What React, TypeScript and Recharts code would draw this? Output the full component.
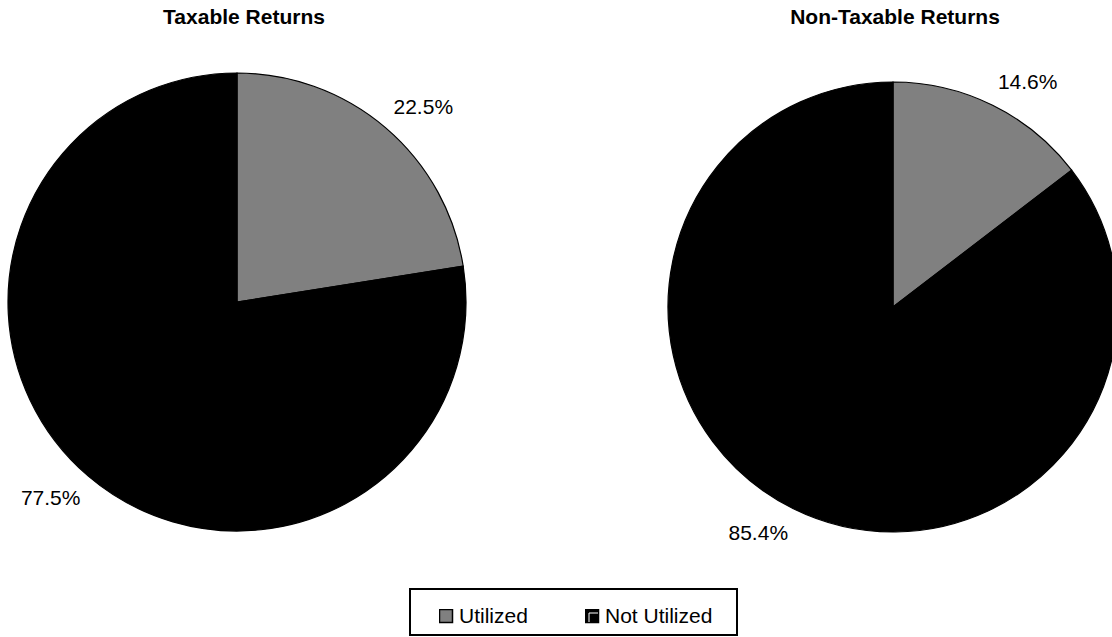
import React from "react";
import { PieChart, Pie, Cell, Legend } from "recharts";

// data
const categories = ["Utilized", "Not Utilized"];
const taxableShares = [22.5, 77.5];
const nonTaxableShares = [14.6, 85.4];
const chartTitles = ["Taxable Returns", "Non-Taxable Returns"];
const sliceColors = ["#808080", "#000000"];

const FONT = "Arial, 'Liberation Sans', Helvetica, sans-serif";
const RAD = Math.PI / 180;
const MARGIN = 5; // recharts default chart margin, pie cx/cy are measured from it

const toRows = (values: number[]) =>
  categories.map((name, i) => ({ name, value: values[i] }));

// label sits just outside the rim, anchored on the side facing away from the pie
function renderLabel(props: any) {
  const { cx, cy, midAngle, outerRadius, value } = props;
  const c = Math.cos(-midAngle * RAD);
  const s = Math.sin(-midAngle * RAD);
  const x = cx + (outerRadius + 12) * c;
  const y = cy + (outerRadius + 18) * s;
  return (
    <text
      x={x}
      y={s < 0 ? y : y + 15}
      textAnchor={c >= 0 ? "start" : "end"}
      fill="#000"
      fontSize={21}
      fontFamily={FONT}
    >
      {value.toFixed(1)}%
    </text>
  );
}

function LegendBox() {
  return (
    <div
      style={{
        boxSizing: "border-box",
        width: 329,
        height: 48,
        border: "2px solid #000",
        background: "#fff",
        position: "relative",
        fontFamily: FONT,
        fontSize: 20,
      }}
    >
      {categories.map((name, i) => (
        <div
          key={name}
          style={{
            position: "absolute",
            left: i === 0 ? 28 : 174,
            top: 14,
            display: "flex",
            alignItems: "center",
            whiteSpace: "nowrap",
          }}
        >
          <svg width={15} height={15} style={{ marginRight: 5 }}>
            <rect x={0.5} y={0.5} width={13} height={13} fill={sliceColors[i]} stroke="#000" strokeWidth={1.5} />
            {i === 1 && <polyline points="4,13 4,4 13,4" fill="none" stroke="#fff" strokeWidth={1} />}
          </svg>
          <span style={{ fontSize: 21 }}>{name}</span>
        </div>
      ))}
    </div>
  );
}

export default function App() {
  const pies = [
    { title: chartTitles[0], rows: toRows(taxableShares), cx: 237, cy: 302, r: 229, tx: 244 },
    { title: chartTitles[1], rows: toRows(nonTaxableShares), cx: 893, cy: 307, r: 225, tx: 895 },
  ];
  return (
    <div style={{ position: "absolute", left: 0, top: 0, width: 1112, height: 637, background: "#fff", overflow: "hidden" }}>
      {pies.map((p) => (
        <div
          key={p.title}
          style={{
            position: "absolute",
            left: p.tx - 200,
            top: 5,
            width: 400,
            textAlign: "center",
            fontFamily: FONT,
            fontWeight: "bold",
            fontSize: 21,
          }}
        >
          {p.title}
        </div>
      ))}
      <PieChart width={1112} height={637} style={{ position: "absolute", left: 0, top: 0 }}>
        {pies.map((p) => (
          <Pie
            key={p.title}
            data={p.rows}
            dataKey="value"
            nameKey="name"
            cx={p.cx - MARGIN}
            cy={p.cy - MARGIN}
            outerRadius={p.r}
            startAngle={90}
            endAngle={-270}
            stroke="#000"
            strokeWidth={1.2}
            label={renderLabel}
            labelLine={false}
            isAnimationActive={false}
          >
            {p.rows.map((row, i) => (
              <Cell key={row.name} fill={sliceColors[i]} />
            ))}
          </Pie>
        ))}
        <Legend
          content={() => <LegendBox />}
          wrapperStyle={{ left: 409, top: 588, width: 329, height: 48, bottom: "auto" }}
        />
      </PieChart>
    </div>
  );
}
